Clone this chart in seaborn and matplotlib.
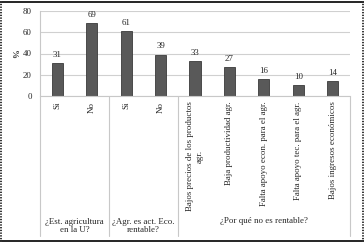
import matplotlib
matplotlib.use("Agg")
import matplotlib.pyplot as plt
import seaborn as sns
import pandas as pd
from matplotlib.lines import Line2D

categories = ["Si", "No", "Si", "No",
              "Bajos precios de los productos\nagr.",
              "Baja productividad agr.",
              "Falta apoyo econ. para el agr.",
              "Falta apoyo tec. para el agr.",
              "Bajos ingresos económicos"]
values = [31, 69, 61, 39, 33, 27, 16, 10, 14]
groups = ["¿Est. agricultura\nen la U?", "¿Agr. es act. Eco.\nrentable?", "¿Por qué no es rentable?"]
group_sizes = [2, 2, 5]
y_ticks = [0, 20, 40, 60, 80]

sns.set_theme(style="white")
plt.rcParams['font.family'] = ['Liberation Serif', 'DejaVu Serif']
FS = 6.4

W, H = 364, 242
fig = plt.figure(figsize=(W / 100, H / 100), dpi=100)
ax = fig.add_axes([40 / W, 1 - 96 / H, 310 / W, 85 / H])

keys = [f"k{i}" for i in range(len(values))]
df = pd.DataFrame({"key": keys, "val": values})
sns.barplot(data=df, x="key", y="val", order=keys, color="#595959",
            width=0.32, edgecolor="#3a3a3a", linewidth=0.6, saturation=1, ax=ax)

ax.set_ylim(0, 80)
ax.set_xlim(-0.5, len(values) - 0.5)
ax.set_yticks(y_ticks)
ax.set_yticklabels([str(t) for t in y_ticks], fontsize=FS)
ax.yaxis.grid(True, color="#d0d0d0", linewidth=0.8)
ax.set_axisbelow(True)
for s in ["top", "right"]:
    ax.spines[s].set_visible(False)
ax.spines["left"].set_color("#c8c8c8")
ax.spines["bottom"].set_color("#c8c8c8")
ax.spines["left"].set_linewidth(0.8)
ax.spines["bottom"].set_linewidth(0.8)
ax.tick_params(axis="both", length=0, pad=6)
ax.set_xlabel("")
ax.set_ylabel("%", fontsize=FS, fontweight="bold", labelpad=1)

ax.set_xticks(range(len(values)))
ax.set_xticklabels(categories, rotation=90, fontsize=FS, va="top", ha="center",
                   multialignment="center")
ax.tick_params(axis="x", pad=4)

for i, v in enumerate(values):
    ax.annotate(str(v), (i, v), xytext=(0, 3), textcoords="offset points",
                ha="center", va="bottom", fontsize=FS)

# group separators and labels
trans = ax.get_xaxis_transform()
sep_bottom = -(236 - 96) / 85
pos = -0.5
bounds = [pos]
for n in group_sizes:
    pos += n
    bounds.append(pos)
for b in bounds:
    ax.add_line(Line2D([b, b], [0, sep_bottom], transform=trans, color="#c8c8c8",
                       linewidth=0.8, clip_on=False))
label_y = [-(226 - 96) / 85, -(226 - 96) / 85, -(221 - 96) / 85]
for g, (a, b), ly in zip(groups, zip(bounds[:-1], bounds[1:]), label_y):
    ax.text((a + b) / 2, ly, g, transform=trans, ha="center", va="center",
            fontsize=FS, linespacing=1.15)

# figure border
fig.add_artist(Line2D([0, 1], [1 - 1.5 / H, 1 - 1.5 / H], transform=fig.transFigure,
                      color="black", linewidth=1.2))
fig.add_artist(Line2D([0, 1], [1.5 / H, 1.5 / H], transform=fig.transFigure,
                      color="black", linewidth=1.2))
for x in [1.0 / W, 1 - 1.0 / W]:
    fig.add_artist(Line2D([x, x], [0, 1], transform=fig.transFigure,
                          color="#333333", linewidth=1.4, linestyle=(0, (0.7, 0.7))))

fig.savefig("out.png", dpi=100)
